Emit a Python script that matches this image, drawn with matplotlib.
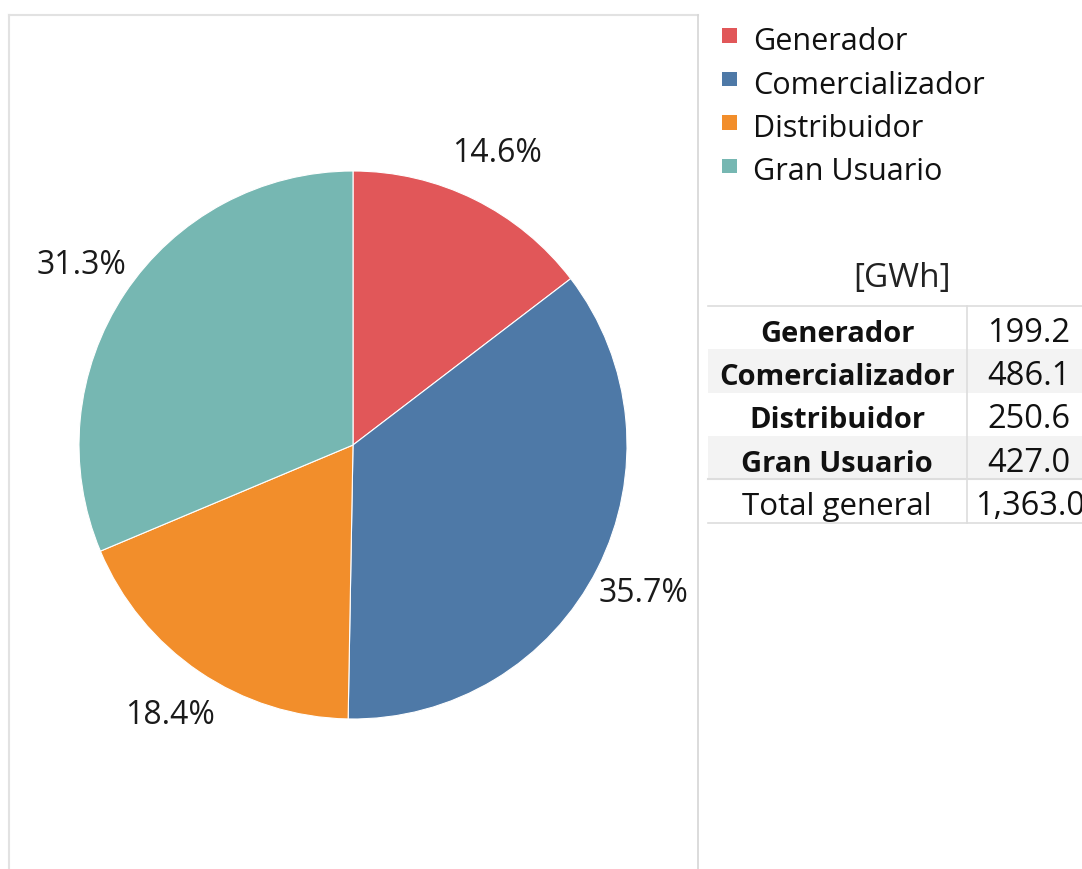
import matplotlib
matplotlib.use("Agg")
import matplotlib.pyplot as plt
import numpy as np

plt.rcParams['font.family'] = ['Open Sans', 'DejaVu Sans']

categories = ["Generador", "Comercializador", "Distribuidor", "Gran Usuario"]
values = [199.2, 486.1, 250.6, 427.0]
total_label = "Total general"
total_value = "1,363.0"
colors = ["#E15759", "#4E79A7", "#F28E2B", "#76B7B2"]
unit_title = "[GWh]"

W, H = 1082, 870
fig = plt.figure(figsize=(W / 100, H / 100), dpi=100)

# overlay axes in pixel coordinates for frame, legend and table
ov = fig.add_axes([0, 0, 1, 1])
ov.set_xlim(0, W)
ov.set_ylim(H, 0)
ov.axis("off")

# frame of the pie pane
ov.plot([9, 9], [16, H], color="#E2E2E2", lw=1.5)
ov.plot([9, 698], [16, 16], color="#E2E2E2", lw=1.5)
ov.plot([698, 698], [16, H], color="#D6D6D6", lw=1.2)

# pie
cx, cy, r = 353, 446, 274
pax = fig.add_axes([(cx - r) / W, (H - cy - r) / H, 2 * r / W, 2 * r / H])
wedges, _, autotexts = pax.pie(
    values, colors=colors, startangle=90, counterclock=False,
    autopct=lambda p: f"{p:.1f}%", pctdistance=1.19,
    wedgeprops=dict(edgecolor="white", linewidth=0.8),
    textprops=dict(fontsize=23, color="#1a1a1a"))
pax.set_xlim(-1, 1)
pax.set_ylim(-1, 1)
pax.set_aspect("auto")
pax.axis("off")

# legend
leg_y0, leg_dy = 36, 43.5
for i, (cat, col) in enumerate(zip(categories, colors)):
    y = leg_y0 + i * leg_dy
    ov.add_patch(plt.Rectangle((722, y - 7), 14.5, 14.5, color=col, lw=0))
    ov.text(753, y + 14, cat, fontsize=22, va="baseline", ha="left",
            color="#111111")

# table
ov.text(902, 287, unit_title, fontsize=24, ha="center", va="baseline",
        color="#222222")
row_top, row_h = 307, 43.3
left_x, div_x, right_x = 708, 967, W
rows = list(zip(categories, values))
for i, (cat, val) in enumerate(rows):
    y0 = row_top + i * row_h
    if i % 2 == 1:
        ov.add_patch(plt.Rectangle((left_x, y0), right_x - left_x, row_h,
                                   color="#F3F3F3", lw=0))
    yb = y0 + row_h / 2 + 13
    ov.text(837, yb, cat, fontsize=21, fontweight="bold", ha="center",
            va="baseline", color="#111111")
    ov.text(1029, yb, f"{val:.1f}", fontsize=23.5, ha="center", va="baseline",
            color="#111111")
yt = row_top + len(rows) * row_h
ybt = yt + row_h / 2 + 13
ov.text(837, ybt, total_label, fontsize=22.5, ha="center",
        va="baseline", color="#111111")
ov.text(975, ybt, total_value, fontsize=23.5, ha="left",
        va="baseline", color="#111111")
ov.plot([left_x, right_x], [row_top, row_top], color="#DDDDDD", lw=1.2)
ov.plot([left_x, right_x], [yt, yt], color="#DDDDDD", lw=1.5)
ov.plot([left_x, right_x], [yt + row_h, yt + row_h], color="#DDDDDD", lw=1.2)
ov.plot([div_x, div_x], [row_top, yt + row_h], color="#DDDDDD", lw=1.2)

fig.savefig("out.png", dpi=100)
